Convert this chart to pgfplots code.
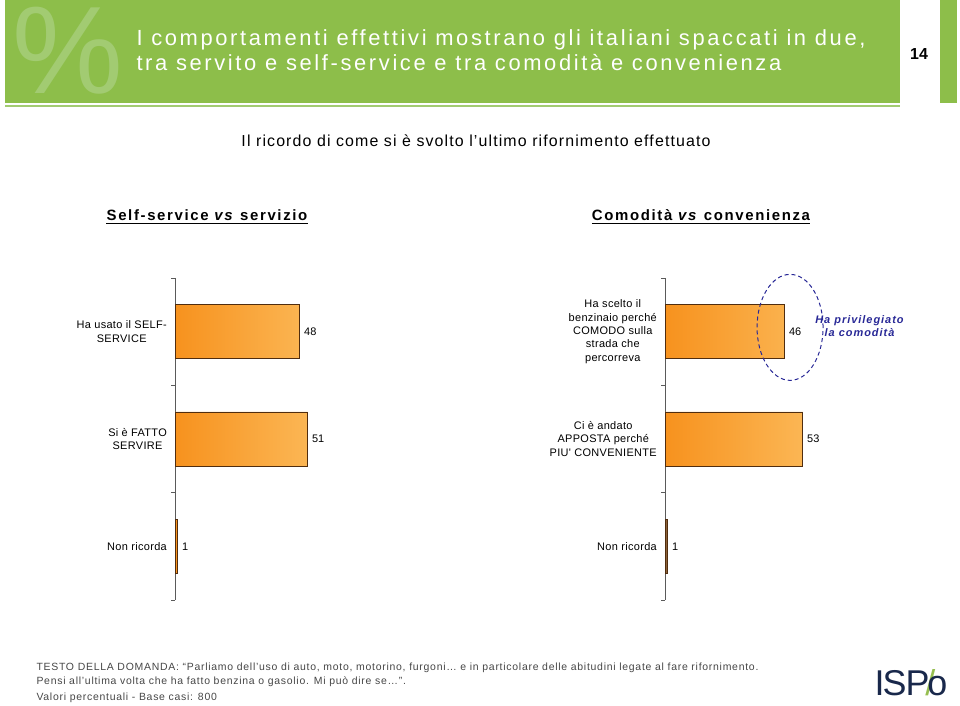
\documentclass[border=0pt]{standalone}
\usepackage{fontspec}
\setmainfont{Liberation Sans}
\newfontfamily\spct[LetterSpace=12]{Liberation Sans}
\newfontfamily\spch[LetterSpace=11]{Liberation Sans}
\newfontfamily\spcsub[LetterSpace=7]{Liberation Sans}
\newfontfamily\spcf[LetterSpace=7]{Liberation Sans}
\newfontfamily\spca[LetterSpace=9]{Liberation Sans}
\newfontfamily\spcs[LetterSpace=3]{Liberation Sans}
\usepackage{pgfplots}
\pgfplotsset{compat=1.18}
\definecolor{hdrgreen}{RGB}{141,190,74}
\definecolor{pctgreen}{RGB}{162,203,114}
\definecolor{barA}{RGB}{247,146,30}
\definecolor{barB}{RGB}{251,182,84}
\definecolor{bardraw}{RGB}{80,45,15}
\definecolor{navy}{RGB}{40,40,150}
\definecolor{logonavy}{RGB}{25,40,75}
\definecolor{logogreen}{RGB}{150,190,80}
\definecolor{brownbar}{RGB}{140,98,57}
\definecolor{foot}{RGB}{70,70,70}
\definecolor{axgray}{RGB}{90,90,90}
\pgfplotsset{mybars/.style={
  scale only axis, width=260bp, height=322bp,
  xmin=0, xmax=100, ymin=-0.5, ymax=2.5, y dir=reverse,
  axis x line=none, axis y line*=left,
  axis line style={draw=axgray, line width=1bp},
  ytick={0,1,2}, major tick length=0pt,
  minor ytick={-0.5,0.5,1.5,2.5}, minor tick length=4bp, tick align=outside,
  minor tick style={draw=axgray, line width=0.8bp},
  yticklabel style={align=center, font=\spcs\fontsize{11}{13.5}\selectfont, inner sep=0pt, xshift=-8bp},
  xbar, bar width=54bp, bar shift=0pt,
  nodes near coords,
  nodes near coords style={font=\fontsize{11}{13}\selectfont, anchor=west, xshift=4bp, inner sep=0pt, text=black},
  /pgf/number format/assume math mode=true,
  clip=false,
}}
\begin{document}
\begin{tikzpicture}[x=1bp,y=1bp]
\useasboundingbox (0,0) rectangle (960,706);
% header
\fill[hdrgreen] (5,706) rectangle (900,603);
\fill[hdrgreen] (940,706) rectangle (957,603);
\draw[pctgreen, line width=1.5bp] (5,600) -- (900,600);
\begin{scope}
\clip (5,706) rectangle (900,603);
\node[text=pctgreen, font=\fontsize{125}{125}\selectfont] at (68,655) {\%};
\end{scope}
\node[anchor=base west, text=white, font=\spct\fontsize{22}{26}\selectfont] at (133,660) {I comportamenti effettivi mostrano gli italiani spaccati in due,};
\node[anchor=base west, text=white, font=\spct\fontsize{22}{26}\selectfont] at (133,635) {tra servito e self-service e tra comodità e convenienza};
\node[anchor=base, font=\bfseries\fontsize{16}{18}\selectfont] at (919,646) {14};
% subtitle
\node[anchor=base, font=\spcsub\fontsize{16}{18}\selectfont] at (476,559) {Il ricordo di come si è svolto l’ultimo rifornimento effettuato};
% section headings
\node[anchor=base, inner sep=0pt, font=\spch\bfseries\fontsize{15}{18}\selectfont] (h1) at (207,485) {Self-service \textit{vs} servizio};
\draw[line width=1.2bp] ([yshift=-2.5bp]h1.base west) -- ([yshift=-2.5bp]h1.base east);
\node[anchor=base, inner sep=0pt, font=\spch\bfseries\fontsize{15}{18}\selectfont] (h2) at (701,485) {Comodità \textit{vs} convenienza};
\draw[line width=1.2bp] ([yshift=-2.5bp]h2.base west) -- ([yshift=-2.5bp]h2.base east);
% left chart
\begin{axis}[mybars, at={(175bp,106bp)}, anchor=south west,
  yticklabels={{Ha usato il SELF-\\SERVICE},{Si è FATTO\\SERVIRE},{Non ricorda}}]
\addplot[draw=bardraw, line width=0.8bp, left color=barA, right color=barB] coordinates {(48,0) (51,1) (1,2)};
\end{axis}
% right chart
\begin{axis}[mybars, at={(665bp,106bp)}, anchor=south west,
  yticklabels={{Ha scelto il\\benzinaio perché\\COMODO sulla\\strada che\\percorreva},{Ci è andato\\APPOSTA perché\\PIU' CONVENIENTE},{Non ricorda}}]
\addplot[draw=bardraw, line width=0.8bp, left color=barA, right color=barB] coordinates {(46,0) (53,1)};
\addplot[draw=bardraw, line width=0.8bp, fill=brownbar] coordinates {(1,2)};
\draw[navy, dash pattern=on 4bp off 3bp, line width=1bp] (axis cs:48.1,-0.04) ellipse [x radius=33bp, y radius=53bp];
\node[text=navy, align=center, font=\spca\bfseries\itshape\fontsize{11}{13}\selectfont] at (axis cs:74.8,-0.05) {Ha privilegiato\\la comodità};
\end{axis}
% footer
\node[anchor=base west, text=foot, font=\spcf\fontsize{10.5}{12}\selectfont] at (33,35) {TESTO DELLA DOMANDA: “Parliamo dell’uso di auto, moto, motorino, furgoni… e in particolare delle abitudini legate al fare rifornimento.};
\node[anchor=base west, text=foot, font=\spcf\fontsize{10.5}{12}\selectfont] at (33,21) {Pensi all’ultima volta che ha fatto benzina o gasolio. Mi può dire se…”.};
\node[anchor=base west, text=foot, font=\spcf\fontsize{10.5}{12}\selectfont] at (33,5) {Valori percentuali - Base casi: 800};
% logo
\node[font=\fontsize{36}{36}\selectfont] at (911,23) {\textcolor{logonavy}{I\kern-2bp S\kern-1bp P}\kern-4bp\textcolor{logogreen}{/}\kern-8bp\textcolor{logonavy}{o}};
\end{tikzpicture}
\end{document}
